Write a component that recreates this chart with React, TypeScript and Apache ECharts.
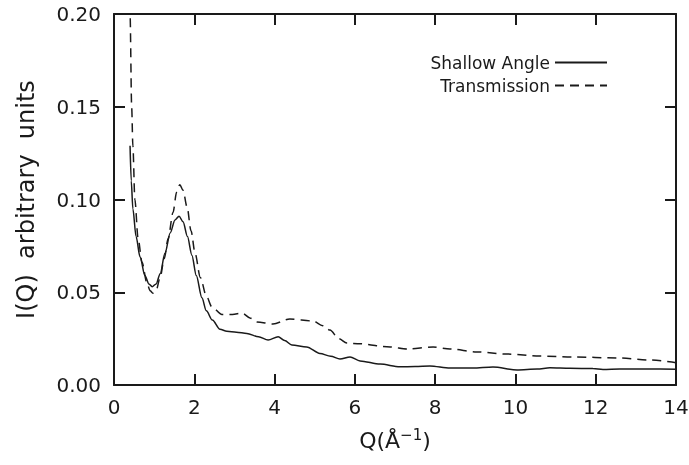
import React, { useEffect, useRef } from "react";
import * as echarts from "echarts";

// Scattering intensity I(Q) for two measurement geometries
const qShallow = [
  0.40, 0.43, 0.47, 0.55, 0.65, 0.77, 0.87, 0.95, 1.05, 1.15, 1.27, 1.40, 1.52, 1.62,
  1.72, 1.83, 1.94, 2.05, 2.19, 2.30, 2.45, 2.64, 2.81, 3.05, 3.31, 3.60, 3.84, 4.09,
  4.25, 4.43, 4.80, 5.13, 5.40, 5.63, 5.88, 6.13, 6.63, 7.12, 7.50, 7.87, 8.37, 8.94,
  9.44, 10.04, 10.54, 10.86, 11.36, 11.93, 12.18, 12.60, 13.30, 14.0,
];
const iShallow = [
  0.129, 0.110, 0.095, 0.080, 0.069, 0.059, 0.0545, 0.053, 0.0545, 0.060, 0.071, 0.082,
  0.089, 0.091, 0.088, 0.080, 0.070, 0.059, 0.047, 0.040, 0.035, 0.030, 0.029, 0.0285,
  0.0278, 0.026, 0.0243, 0.026, 0.024, 0.0216, 0.0205, 0.017, 0.0155, 0.014, 0.0151,
  0.013, 0.0113, 0.0098, 0.010, 0.0103, 0.0091, 0.0091, 0.0097, 0.0081, 0.0086, 0.0093,
  0.009, 0.0089, 0.0084, 0.0086, 0.0086, 0.0085,
];

const qTrans = [
  0.38, 0.40, 0.44, 0.47, 0.52, 0.60, 0.70, 0.82, 0.90, 0.97, 1.05, 1.15, 1.25, 1.35,
  1.47, 1.56, 1.64, 1.72, 1.82, 1.92, 2.02, 2.15, 2.30, 2.44, 2.69, 2.95, 3.19, 3.40,
  3.56, 3.96, 4.38, 4.96, 5.20, 5.38, 5.60, 5.80, 6.13, 6.88, 7.30, 7.95, 8.37, 9.04,
  9.79, 10.60, 11.44, 12.53, 13.35, 14.0,
];
const iTrans = [
  0.23, 0.20, 0.150, 0.129, 0.100, 0.079, 0.066, 0.055, 0.0508, 0.0495, 0.051, 0.058,
  0.068, 0.079, 0.093, 0.104, 0.108, 0.105, 0.096, 0.083, 0.071, 0.058, 0.048, 0.042,
  0.038, 0.038, 0.0388, 0.036, 0.034, 0.0329, 0.0356, 0.0345, 0.032, 0.0296, 0.025,
  0.0226, 0.0222, 0.0205, 0.0194, 0.0205, 0.0194, 0.0178, 0.0167, 0.0156, 0.0151,
  0.0146, 0.0135, 0.012,
];

const zip = (xs: number[], ys: number[]) => xs.map((x, i) => [x, ys[i]]);

const FONT = "DejaVu Sans";
const INK = "#1a1a1a";

// fresh style objects for every axis
const frameLine = () => ({ show: true, onZero: false, lineStyle: { color: INK, width: 2 } });
const innerTick = () => ({ show: true, inside: true, length: 11, lineStyle: { color: INK, width: 2 } });

export default function App() {
  const ref = useRef<HTMLDivElement>(null);

  useEffect(() => {
    if (!ref.current) return;
    const chart = echarts.init(ref.current, undefined, { renderer: "svg" });

    chart.setOption({
      animation: false,
      grid: { left: 114, top: 14, right: 13, bottom: 80, outerBoundsMode: "none" },
      legend: {
        orient: "vertical",
        right: 76,
        top: 49,
        align: "right",
        itemWidth: 52,
        itemHeight: 10,
        itemGap: 6,
        itemStyle: { opacity: 0 },
        textStyle: { fontFamily: FONT, fontSize: 17, color: INK },
        data: ["Shallow Angle", "Transmission"],
      },
      xAxis: [
        {
          type: "value",
          position: "bottom",
          min: 0,
          max: 14,
          interval: 2,
          axisLine: frameLine(),
          axisTick: innerTick(),
          splitLine: { show: false },
          axisLabel: { margin: 12, fontFamily: FONT, fontSize: 20, color: INK },
          name: "Q(Å{sup|−1})",
          nameLocation: "middle",
          nameGap: 42,
          nameTextStyle: {
            fontFamily: FONT,
            fontSize: 22,
            color: INK,
            rich: { sup: { fontFamily: FONT, fontSize: 15, color: INK, verticalAlign: "top", padding: [0, 0, 12, 0] } },
          },
        },
        {
          type: "value",
          position: "top",
          min: 0,
          max: 14,
          interval: 2,
          axisLine: frameLine(),
          axisTick: innerTick(),
          axisLabel: { show: false },
          splitLine: { show: false },
        },
      ],
      yAxis: [
        {
          type: "value",
          position: "left",
          min: 0,
          max: 0.2,
          interval: 0.05,
          axisLine: frameLine(),
          axisTick: innerTick(),
          splitLine: { show: false },
          axisLabel: {
            margin: 13,
            fontFamily: FONT,
            fontSize: 20,
            color: INK,
            formatter: (v: number) => v.toFixed(2),
          },
          name: "I(Q)  arbitrary  units",
          nameLocation: "middle",
          nameGap: 76,
          nameTextStyle: { fontFamily: FONT, fontSize: 24, color: INK },
        },
        {
          type: "value",
          position: "right",
          min: 0,
          max: 0.2,
          interval: 0.05,
          axisLine: frameLine(),
          axisTick: innerTick(),
          axisLabel: { show: false },
          splitLine: { show: false },
        },
      ],
      series: [
        {
          name: "Shallow Angle",
          type: "line",
          data: zip(qShallow, iShallow),
          symbol: "none",
          smooth: 0.3,
          smoothMonotone: "x",
          lineStyle: { color: INK, width: 1.5, type: "solid" },
          itemStyle: { color: INK },
        },
        {
          name: "Transmission",
          type: "line",
          data: zip(qTrans, iTrans),
          symbol: "none",
          smooth: 0.3,
          smoothMonotone: "x",
          lineStyle: { color: INK, width: 1.5, type: [9, 6] },
          itemStyle: { color: INK },
        },
      ],
    });

    return () => chart.dispose();
  }, []);

  return <div ref={ref} style={{ position: "fixed", left: 0, top: 0, width: 689, height: 465 }} />;
}
